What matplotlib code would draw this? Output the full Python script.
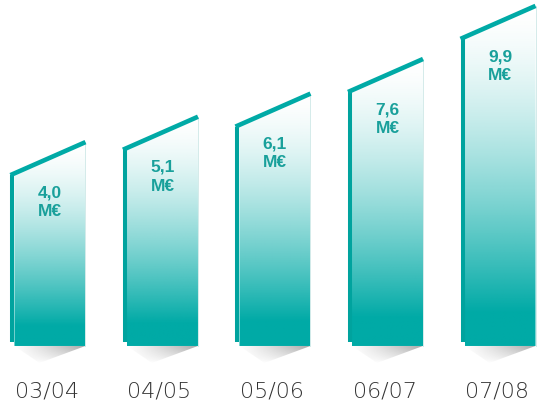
import numpy as np
import matplotlib.pyplot as plt
from matplotlib.colors import to_rgb
from matplotlib.patches import Polygon

seasons = ['03/04', '04/05', '05/06', '06/07', '07/08']
revenue = [4.0, 5.1, 6.1, 7.6, 9.9]          # M€
value_text = ['4,0', '5,1', '6,1', '7,6', '9,9']

teal = '#00aaa6'
edge_teal = '#00a39e'
label_teal = '#19a09b'

fig = plt.figure(figsize=(5.44, 4.03), dpi=100)
ax = fig.add_axes([0, 0, 1, 1])

# pixel sizes in data units
px = 1 / 112.5
py = 1 / 23.09
floor = -3.40          # bars start here, not at zero
half = 35.5 * px
slant = 33 * py

# vertical gradient, solid teal at the bottom fading to white at the top
g = np.linspace(0, 1, 256)
alpha = np.clip((1 - g) / 0.9, 0, 1) ** 1.5
body_img = np.zeros((256, 1, 4))
body_img[..., :3] = to_rgb(teal)
body_img[..., 3] = alpha[:, None]

# shadow gradient: darker to the right and at the top
sx = np.linspace(0, 1, 64)
sy = np.linspace(0, 1, 32)
shadow = np.zeros((32, 64, 4))
shadow[..., :3] = to_rgb('#6e6e6e')
shadow[..., 3] = 0.6 * (sx[None, :] ** 1.1) * (sy[:, None] ** 0.7)

for i, v in enumerate(revenue):
    x0, x1 = i - half, i + half

    body = Polygon([(x0, floor), (x1, floor), (x1, v + slant), (x0, v)],
                   closed=True, facecolor='none', edgecolor='none')
    ax.add_patch(body)
    im = ax.imshow(body_img, extent=[x0, x1, floor, v + slant], origin='lower',
                   aspect='auto', interpolation='bilinear', zorder=2)
    im.set_clip_path(body)
    ax.plot([x1, x1], [floor, v + slant], color='#d4ebea', lw=0.7, zorder=2)

    sh = Polygon([(x0, floor), (x1, floor), (x0 + 25 * px, floor - 17 * py)],
                 closed=True, facecolor='none', edgecolor='none')
    ax.add_patch(sh)
    sim = ax.imshow(shadow, extent=[x0, x1, floor - 17 * py, floor], origin='lower',
                    aspect='auto', interpolation='bilinear', zorder=1)
    sim.set_clip_path(sh)

    # left edge and slanted top
    ax.plot([x0 - 2 * px, x0 - 2 * px], [floor + 4 * py, v], color=edge_teal,
            lw=2.9, solid_capstyle='butt', zorder=3)
    ax.plot([x0 - 4 * px, x1], [v, v + slant], color=teal,
            lw=3.3, solid_capstyle='butt', zorder=3)

    ax.annotate(value_text[i] + '\nM€', (i, v), xytext=(0, -27),
                textcoords='offset pixels', ha='center', va='center',
                fontsize=12.5, fontweight='bold', color=label_teal,
                linespacing=1.3,
                family=['Liberation Sans', 'DejaVu Sans'], zorder=4)

    ax.text(i - 3 * px, floor - 46 * py, seasons[i], ha='center', va='center',
            fontsize=16, fontweight='light', color='#333333')

ax.set_xlim(-0.444, 4.391)
ax.set_ylim(-5.87, 11.585)
ax.axis('off')

fig.savefig('out.png', dpi=100)
